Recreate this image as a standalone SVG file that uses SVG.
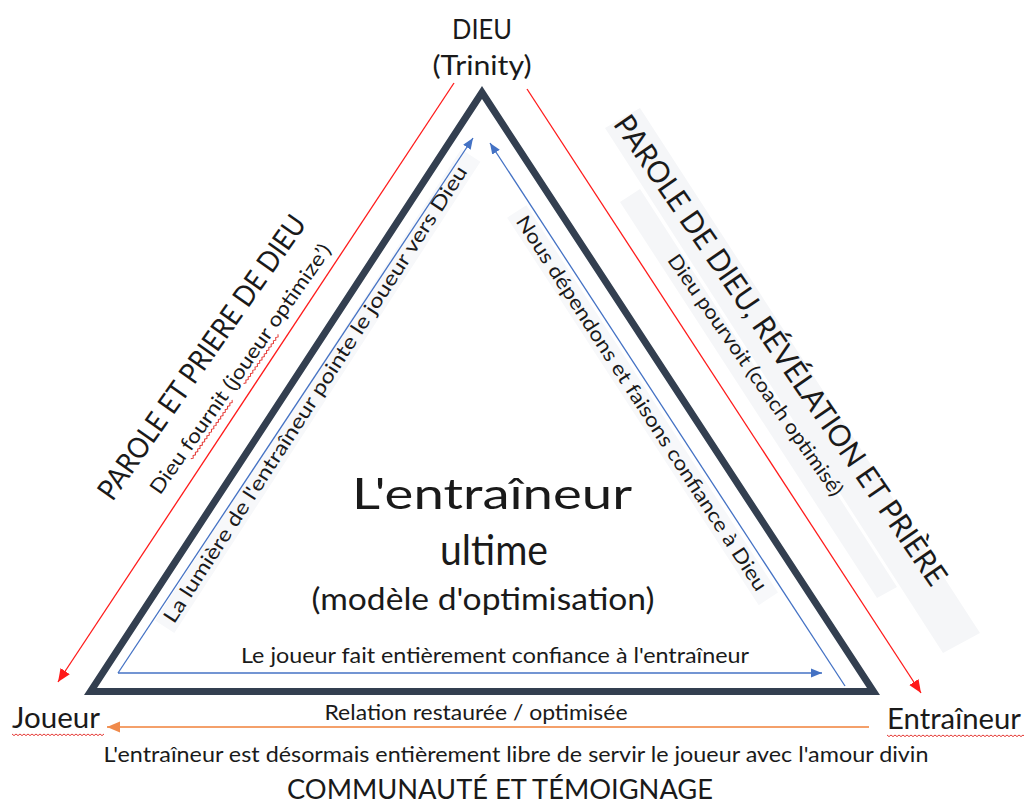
<svg xmlns="http://www.w3.org/2000/svg" width="1024" height="804" viewBox="0 0 1024 804">
<defs>
<style>
text{font-family:Lato,"Open Sans","Liberation Sans",sans-serif;fill:#1a1a1a}
.c{text-anchor:middle}
.blue{stroke:#4472C4;stroke-width:1.3;fill:none}
.red{stroke:#FF1A1A;stroke-width:1.3;fill:none}
.org{stroke:#F4A06A;stroke-width:2;fill:none}
.wave{stroke:#E53935;stroke-width:1;fill:none}
.shade{fill:#F5F6F8}
.shade2{fill:#F7F8FA}
</style>
<marker id="ab" markerUnits="userSpaceOnUse" markerWidth="12" markerHeight="10" refX="11" refY="5" orient="auto"><path d="M0,0.5 L11,5 L0,9.5 z" fill="#4472C4"/></marker>
<marker id="ar" markerUnits="userSpaceOnUse" markerWidth="14" markerHeight="12" refX="13" refY="6" orient="auto"><path d="M0,0.5 L13,6 L0,11.5 z" fill="#FF1A1A"/></marker>
<marker id="ao" markerUnits="userSpaceOnUse" markerWidth="14" markerHeight="12" refX="13" refY="6" orient="auto"><path d="M0,0.5 L13,6 L0,11.5 z" fill="#F08A4B"/></marker>
</defs>
<rect width="1024" height="804" fill="#fff"/>

<!-- shaded text boxes -->
<polygon class="shade" points="605,128 640,108 980,633 943,653"/>
<polygon class="shade" points="620,202 640,189 897,587 877,598"/>
<g transform="translate(321,398) rotate(-57)"><rect class="shade2" x="-277" y="-18" width="562" height="23"/></g>
<g transform="translate(636,407) rotate(57)"><rect class="shade2" x="-229" y="-18" width="462" height="23"/></g>

<g id="triangle">
<polygon points="482,92.5 90.5,691.5 873.5,691.5" fill="none" stroke="#333F50" stroke-width="7" stroke-linejoin="miter" stroke-miterlimit="10"/>
</g>

<g id="connectors">
<path class="blue" d="M118,673 L473,138" marker-end="url(#ab)"/>
<path class="blue" d="M118,673 L822,673" marker-end="url(#ab)"/>
<path class="blue" d="M845,686 L490,143" marker-end="url(#ab)"/>
<path class="red" d="M454,83 L58,682" marker-end="url(#ar)"/>
<path class="red" d="M527,89 L921,693" marker-end="url(#ar)"/>
<path class="org" d="M869,727 L107,727" marker-end="url(#ao)"/>
</g>

<g id="node-dieu">
<text class="c" x="482" y="39" font-size="27" textLength="60" lengthAdjust="spacingAndGlyphs">DIEU</text>
<text class="c" x="482" y="75" font-size="27" textLength="99" lengthAdjust="spacingAndGlyphs">(Trinity)</text>
</g>

<g id="node-center">
<text class="c" x="492" y="509" font-size="43" textLength="280" lengthAdjust="spacingAndGlyphs">L'entraîneur</text>
<text class="c" x="494" y="565" font-size="43" textLength="108" lengthAdjust="spacingAndGlyphs">ultime</text>
<text class="c" x="483" y="610" font-size="30" textLength="343" lengthAdjust="spacingAndGlyphs">(modèle d'optimisation)</text>
</g>

<g id="node-joueur">
<text x="12" y="728" font-size="28" textLength="88" lengthAdjust="spacingAndGlyphs">Joueur</text>
<path class="wave" d="M12,734 l2 1.6l2 -1.6l2 1.6l2 -1.6l2 1.6l2 -1.6l2 1.6l2 -1.6l2 1.6l2 -1.6l2 1.6l2 -1.6l2 1.6l2 -1.6l2 1.6l2 -1.6l2 1.6l2 -1.6l2 1.6l2 -1.6l2 1.6l2 -1.6l2 1.6l2 -1.6l2 1.6l2 -1.6l2 1.6l2 -1.6l2 1.6l2 -1.6l2 1.6l2 -1.6l2 1.6l2 -1.6l2 1.6l2 -1.6l2 1.6l2 -1.6l2 1.6l2 -1.6l2 1.6l2 -1.6l2 1.6l2 -1.6l2 1.6l2 -1.6"/>
</g>

<g id="node-entraineur">
<text x="887" y="729" font-size="28" textLength="134" lengthAdjust="spacingAndGlyphs">Entraîneur</text>
<path class="wave" d="M887,735 l2 1.6l2 -1.6l2 1.6l2 -1.6l2 1.6l2 -1.6l2 1.6l2 -1.6l2 1.6l2 -1.6l2 1.6l2 -1.6l2 1.6l2 -1.6l2 1.6l2 -1.6l2 1.6l2 -1.6l2 1.6l2 -1.6l2 1.6l2 -1.6l2 1.6l2 -1.6l2 1.6l2 -1.6l2 1.6l2 -1.6l2 1.6l2 -1.6l2 1.6l2 -1.6l2 1.6l2 -1.6l2 1.6l2 -1.6l2 1.6l2 -1.6l2 1.6l2 -1.6l2 1.6l2 -1.6l2 1.6l2 -1.6l2 1.6l2 -1.6l2 1.6l2 -1.6l2 1.6l2 -1.6l2 1.6l2 -1.6l2 1.6l2 -1.6l2 1.6l2 -1.6l2 1.6l2 -1.6l2 1.6l2 -1.6l2 1.6l2 -1.6l2 1.6l2 -1.6l2 1.6l2 -1.6l2 1.6l2 -1.6l2 1.6l2 -1.6l2 1.6l2 -1.6l2 1.6l2 -1.6l2 1.6l2 -1.6l2 1.6l2 -1.6l2 1.6l2 -1.6"/>
</g>

<g id="labels-bottom">
<text class="c" x="495" y="663" font-size="21" textLength="508" lengthAdjust="spacingAndGlyphs">Le joueur fait entièrement confiance à l'entraîneur</text>
<text class="c" x="476" y="720" font-size="21" textLength="303" lengthAdjust="spacingAndGlyphs">Relation restaurée / optimisée</text>
<text class="c" x="516" y="762" font-size="22" textLength="825" lengthAdjust="spacingAndGlyphs">L'entraîneur est désormais entièrement libre de servir le joueur avec l'amour divin</text>
<text class="c" x="500" y="799" font-size="27" textLength="426" lengthAdjust="spacingAndGlyphs">COMMUNAUTÉ ET TÉMOIGNAGE</text>
</g>

<g id="labels-left">
<g transform="translate(210,363) rotate(-55)"><text class="c" x="0" y="0" font-size="29" textLength="340" lengthAdjust="spacingAndGlyphs">PAROLE ET PRIERE DE DIEU</text></g>
<g transform="translate(246,373) rotate(-55)"><text class="c" x="0" y="0" font-size="20" textLength="300" lengthAdjust="spacingAndGlyphs">Dieu fournit (joueur optimize’)</text>
<path class="wave" d="M-102,4 l2 1.6l2 -1.6l2 1.6l2 -1.6l2 1.6l2 -1.6l2 1.6l2 -1.6l2 1.6l2 -1.6l2 1.6l2 -1.6l2 1.6l2 -1.6l2 1.6l2 -1.6l2 1.6l2 -1.6l2 1.6l2 -1.6l2 1.6l2 -1.6l2 1.6l2 -1.6l2 1.6l2 -1.6l2 1.6l2 -1.6l2 1.6l2 -1.6l2 1.6l2 -1.6l2 1.6l2 -1.6l2 1.6l2 -1.6"/>
<path class="wave" d="M-10,4 l2 1.6l2 -1.6l2 1.6l2 -1.6l2 1.6l2 -1.6l2 1.6l2 -1.6l2 1.6l2 -1.6l2 1.6l2 -1.6l2 1.6l2 -1.6l2 1.6l2 -1.6l2 1.6l2 -1.6l2 1.6l2 -1.6l2 1.6l2 -1.6l2 1.6l2 -1.6l2 1.6l2 -1.6l2 1.6l2 -1.6l2 1.6l2 -1.6"/></g>
<g transform="translate(321,398) rotate(-57)"><text class="c" x="0" y="0" font-size="20" textLength="540" lengthAdjust="spacingAndGlyphs">La lumière de l'entraîneur pointe le joueur vers Dieu</text></g>
</g>

<g id="labels-right">
<g transform="translate(636,407) rotate(57)"><text class="c" x="0" y="0" font-size="20" textLength="443" lengthAdjust="spacingAndGlyphs">Nous dépendons et faisons confiance à Dieu</text></g>
<g transform="translate(772,356) rotate(55.5)"><text class="c" x="0" y="0" font-size="30" textLength="563" lengthAdjust="spacingAndGlyphs">PAROLE DE DIEU, RÉVÉLATION ET PRIÈRE</text></g>
<g transform="translate(750,379) rotate(55)"><text class="c" x="0" y="0" font-size="20" textLength="290" lengthAdjust="spacingAndGlyphs">Dieu pourvoit (coach optimisé)</text></g>
</g>
</svg>
